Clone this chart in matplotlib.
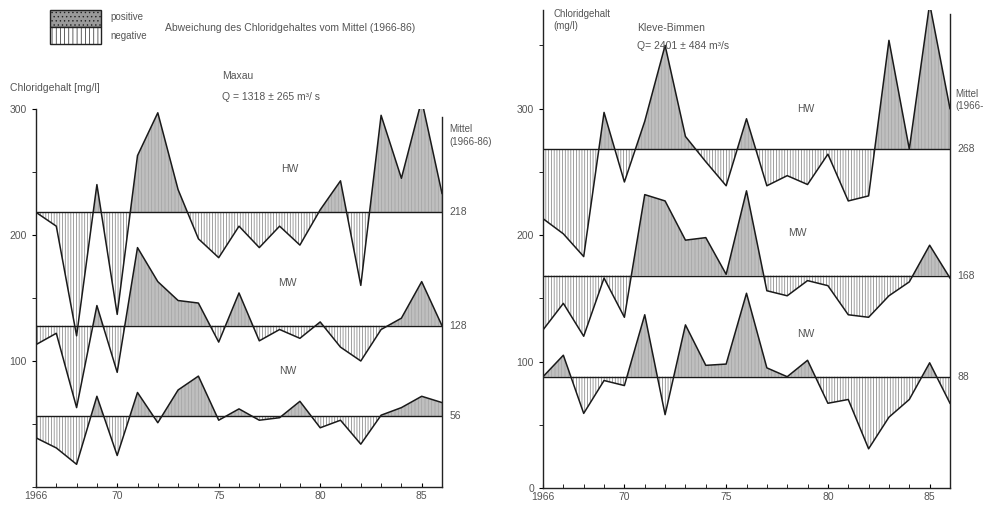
import numpy as np
import matplotlib
matplotlib.use("Agg")
import matplotlib.pyplot as plt
from matplotlib.patches import Rectangle

plt.rcParams["font.family"] = ["Liberation Sans", "DejaVu Sans"]
plt.rcParams["hatch.linewidth"] = 0.5

years = np.arange(1966, 1987)

# Maxau (mg/l)
maxau_hw = [218, 207, 120, 240, 137, 263, 297, 236, 197, 182, 207,
            190, 207, 192, 220, 243, 160, 295, 245, 307, 233]
maxau_mw = [113, 122, 63, 144, 91, 190, 163, 148, 146, 115, 154,
            116, 125, 118, 131, 111, 100, 125, 134, 163, 128]
maxau_nw = [39, 31, 18, 72, 25, 75, 51, 77, 88, 53, 62,
            53, 55, 68, 47, 53, 34, 57, 63, 72, 67]
maxau_mean = [218, 128, 56]

# Kleve-Bimmen
kleve_hw = [213, 201, 183, 297, 242, 290, 350, 278, 258, 239, 292,
            239, 247, 240, 264, 227, 231, 354, 268, 383, 300]
kleve_mw = [125, 146, 120, 166, 135, 232, 227, 196, 198, 169, 235,
            156, 152, 164, 160, 137, 135, 152, 163, 192, 166]
kleve_nw = [88, 105, 59, 85, 81, 137, 58, 129, 97, 98, 154,
            95, 88, 101, 67, 70, 31, 56, 70, 99, 67]
kleve_mean = [268, 168, 88]

series_names = ["HW", "MW", "NW"]

POS_FC = "#bfbfbf"
POS_HC = "#a2a2a2"
NEG_HC = "#7a7a7a"
TXT = "#555555"

fig = plt.figure(figsize=(9.9, 5.07), dpi=100)


def draw_panel(ax, series, means, ymax, mean_axis_top):
    for vals, m in zip(series, means):
        v = np.array(vals, dtype=float)
        ax.fill_between(years, m, v, where=v >= m, interpolate=True,
                        facecolor=POS_FC, edgecolor=POS_HC, hatch="|||||",
                        linewidth=0)
        ax.fill_between(years, m, v, where=v <= m, interpolate=True,
                        facecolor="white", edgecolor=NEG_HC, hatch="||||||",
                        linewidth=0)
        ax.plot(years, v, color="#1a1a1a", lw=1.1)
        ax.axhline(m, color="#1a1a1a", lw=1.0)
        ax.text(1986.35, m, str(m), color=TXT, fontsize=7.5, va="center",
                clip_on=False)
    ax.set_xlim(1966, 1986)
    ax.set_ylim(0, ymax)
    ax.spines["top"].set_visible(False)
    ax.spines["right"].set_bounds(0, mean_axis_top)
    for s in ["left", "right", "bottom"]:
        ax.spines[s].set_linewidth(1.0)
        ax.spines[s].set_color("#222222")
    ax.set_xticks(years, minor=True)
    ax.set_xticks([1966, 1970, 1975, 1980, 1985])
    ax.set_xticklabels(["1966", "70", "75", "80", "85"])
    ax.tick_params(axis="x", which="both", direction="in", length=3,
                   labelsize=7.5, labelcolor=TXT, pad=3)
    ax.tick_params(axis="y", which="both", direction="out", length=3,
                   labelsize=7.5, labelcolor=TXT)
    ax.tick_params(axis="y", which="both", right=False)
    ax.set_facecolor("none")


# left panel: Maxau
ax1 = fig.add_axes([36 / 990, 20 / 507, 406 / 990, 378 / 507])
draw_panel(ax1, [maxau_hw, maxau_mw, maxau_nw], maxau_mean, 300, 294)
ax1.spines["left"].set_bounds(0, 300)
ax1.set_yticks(np.arange(0, 301, 50), minor=True)
ax1.set_yticks([100, 200, 300])
ax1.text(1986.35, 288, "Mittel\n(1966-86)", color=TXT, fontsize=7,
         va="top", clip_on=False, linespacing=1.4)
for name, (x, y) in zip(series_names, [(1978.5, 252), (1978.4, 162), (1978.4, 92)]):
    ax1.text(x, y, name, color=TXT, fontsize=7.5, ha="center", va="center")

# right panel: Kleve-Bimmen
ax2 = fig.add_axes([543 / 990, 19 / 507, 407 / 990, 478 / 507])
draw_panel(ax2, [kleve_hw, kleve_mw, kleve_nw], kleve_mean, 378, 375)
ax2.set_yticks(np.arange(0, 351, 50), minor=True)
ax2.set_yticks([0, 100, 200, 300])
ax2.text(1986.25, 307, "Mittel\n(1966-", color=TXT, fontsize=7,
         va="center", clip_on=False, linespacing=1.2)
for name, (x, y) in zip(series_names, [(1978.9, 300), (1978.5, 202), (1978.9, 122)]):
    ax2.text(x, y, name, color=TXT, fontsize=7.5, ha="center", va="center")

# captions
fig.text(10 / 990, 1 - 88 / 507, "Chloridgehalt [mg/l]", color=TXT,
         fontsize=7.5, va="center")
fig.text(222 / 990, 1 - 76 / 507, "Maxau", color=TXT, fontsize=7.5, va="center")
fig.text(222 / 990, 1 - 97 / 507, "Q = 1318 ± 265 m³/ s", color=TXT,
         fontsize=7.5, va="center")
fig.text(553 / 990, 1 - 20 / 507, "Chloridgehalt\n(mg/l)", color=TXT,
         fontsize=7, va="center", linespacing=1.3)
fig.text(637 / 990, 1 - 28 / 507, "Kleve-Bimmen", color=TXT, fontsize=7.5,
         va="center")
fig.text(637 / 990, 1 - 46 / 507, "Q= 2401 ± 484 m³/s", color=TXT,
         fontsize=7.5, va="center")

# legend
fig.patches.append(Rectangle((50 / 990, 1 - 27 / 507), 51 / 990, 17 / 507,
                             transform=fig.transFigure, facecolor="#9a9a9a",
                             edgecolor="#222222", hatch="....", lw=1.0))
fig.patches.append(Rectangle((50 / 990, 1 - 44 / 507), 51 / 990, 17 / 507,
                             transform=fig.transFigure, facecolor="white",
                             edgecolor="#222222", hatch="||||", lw=1.0))
fig.text(110 / 990, 1 - 17 / 507, "positive", color=TXT, fontsize=7, va="center")
fig.text(110 / 990, 1 - 36 / 507, "negative", color=TXT, fontsize=7, va="center")
fig.text(165 / 990, 1 - 28 / 507,
         "Abweichung des Chloridgehaltes vom Mittel (1966-86)",
         color=TXT, fontsize=7.5, va="center")

fig.savefig("out.png", dpi=100)
